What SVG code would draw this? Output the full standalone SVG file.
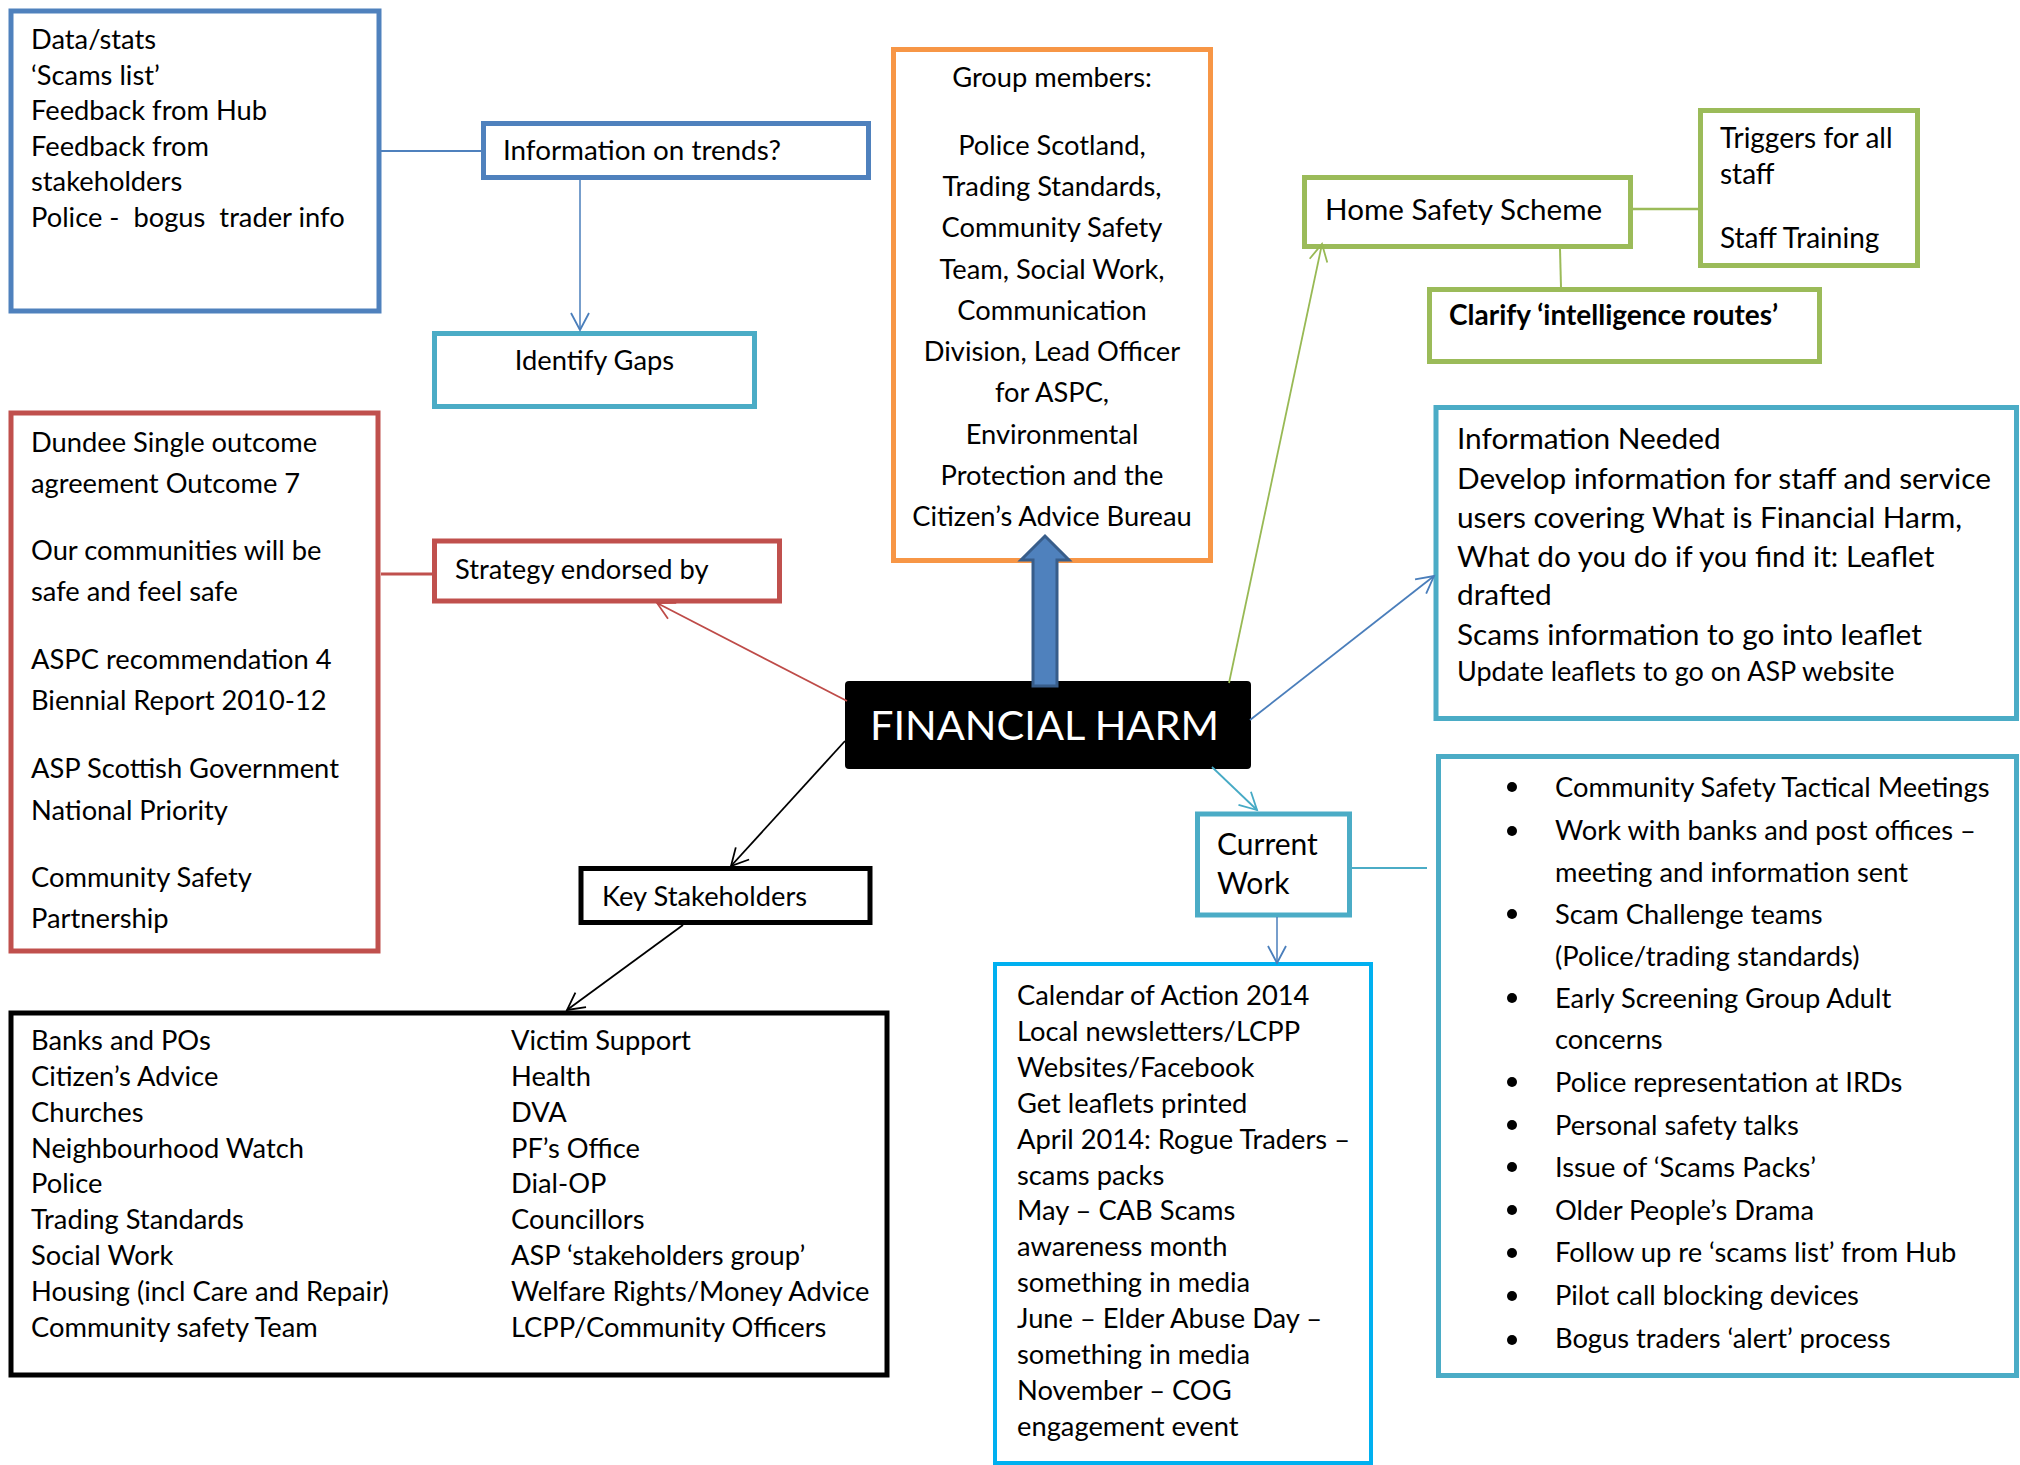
<svg xmlns="http://www.w3.org/2000/svg" width="2020" height="1465" viewBox="0 0 2020 1465">
<defs>
<style>
text{font-family:Lato,"Open Sans",sans-serif;font-size:27.3px;fill:#000}
.box{fill:#fff;stroke-width:5}
.blue{stroke:#4f81bd}.red{stroke:#c0504d}.orange{stroke:#f79646}.green{stroke:#9bbb59}.cyan{stroke:#4bacc6}.black{stroke:#000}
.mid{text-anchor:middle}
.big{font-size:29.8px}
</style>
<marker id="aBlue" markerUnits="userSpaceOnUse" markerWidth="24" markerHeight="24" viewBox="-20 -12 24 24" refX="0" refY="0" orient="auto"><path d="M-17,-9 L0,0 L-17,9" fill="none" stroke="#4a7ebb" stroke-width="1.8"/></marker>
<marker id="aRed" markerUnits="userSpaceOnUse" markerWidth="24" markerHeight="24" viewBox="-20 -12 24 24" refX="0" refY="0" orient="auto"><path d="M-17,-9 L0,0 L-17,9" fill="none" stroke="#be4b48" stroke-width="1.8"/></marker>
<marker id="aBlack" markerUnits="userSpaceOnUse" markerWidth="24" markerHeight="24" viewBox="-20 -12 24 24" refX="0" refY="0" orient="auto"><path d="M-17,-9 L0,0 L-17,9" fill="none" stroke="#000" stroke-width="1.8"/></marker>
<marker id="aGreen" markerUnits="userSpaceOnUse" markerWidth="24" markerHeight="24" viewBox="-20 -12 24 24" refX="0" refY="0" orient="auto"><path d="M-17,-9 L0,0 L-17,9" fill="none" stroke="#98b954" stroke-width="1.8"/></marker>
<marker id="aCyan" markerUnits="userSpaceOnUse" markerWidth="24" markerHeight="24" viewBox="-20 -12 24 24" refX="0" refY="0" orient="auto"><path d="M-17,-9 L0,0 L-17,9" fill="none" stroke="#46aac5" stroke-width="1.8"/></marker>
</defs>
<rect width="2020" height="1465" fill="#fff"/>

<g id="data-stats">
<rect class="box blue" x="11" y="11" width="368" height="300"/>
<text x="31" y="49">Data/stats</text>
<text x="31" y="84.5">‘Scams list’</text>
<text x="31" y="120">Feedback from Hub</text>
<text x="31" y="155.5">Feedback from</text>
<text x="31" y="191">stakeholders</text>
<text x="31" y="226.5" xml:space="preserve">Police -  bogus  trader info</text>
</g>

<g id="info-trends">
<rect class="box blue" x="483.5" y="123.5" width="385" height="54"/>
<text x="503" y="160" style="font-size:27.8px">Information on trends?</text>
</g>

<g id="identify-gaps">
<rect class="box cyan" x="434.5" y="333.5" width="320" height="73"/>
<text class="mid" x="594.5" y="370">Identify Gaps</text>
</g>

<g id="group-members">
<rect class="box orange" x="893.5" y="49.5" width="317" height="511"/>
<text class="mid" x="1052" y="87">Group members:</text>
<text class="mid" x="1052" y="155">Police Scotland,</text>
<text class="mid" x="1052" y="196">Trading Standards,</text>
<text class="mid" x="1052" y="237">Community Safety</text>
<text class="mid" x="1052" y="279">Team, Social Work,</text>
<text class="mid" x="1052" y="320">Communication</text>
<text class="mid" x="1052" y="361">Division, Lead Officer</text>
<text class="mid" x="1052" y="402">for ASPC,</text>
<text class="mid" x="1052" y="444">Environmental</text>
<text class="mid" x="1052" y="485">Protection and the</text>
<text class="mid" x="1052" y="526">Citizen’s Advice Bureau</text>
</g>

<g id="outcomes">
<rect class="box red" x="11" y="413" width="367" height="538"/>
<text x="31" y="452">Dundee Single outcome</text>
<text x="31" y="493">agreement Outcome 7</text>
<text x="31" y="560">Our communities will be</text>
<text x="31" y="601">safe and feel safe</text>
<text x="31" y="669">ASPC recommendation 4</text>
<text x="31" y="710">Biennial Report 2010-12</text>
<text x="31" y="778">ASP Scottish Government</text>
<text x="31" y="820">National Priority</text>
<text x="31" y="887">Community Safety</text>
<text x="31" y="928">Partnership</text>
</g>

<g id="strategy">
<rect class="box red" x="434.5" y="541" width="345" height="60"/>
<text x="455" y="579">Strategy endorsed by</text>
</g>

<g id="financial-harm">
<rect x="845" y="681" width="406" height="88" rx="4" fill="#000"/>
<text x="870" y="740" style="font-size:41.5px;fill:#fff">FINANCIAL HARM</text>
</g>

<g id="key-stakeholders">
<rect class="box black" x="581" y="868.5" width="289" height="54"/>
<text x="602" y="906">Key Stakeholders</text>
</g>

<g id="stakeholders-list">
<rect class="box black" x="11" y="1013" width="876" height="362"/>
<text x="31" y="1050">Banks and POs</text>
<text x="31" y="1086">Citizen’s Advice</text>
<text x="31" y="1122">Churches</text>
<text x="31" y="1158">Neighbourhood Watch</text>
<text x="31" y="1193">Police</text>
<text x="31" y="1229">Trading Standards</text>
<text x="31" y="1265">Social Work</text>
<text x="31" y="1301">Housing (incl Care and Repair)</text>
<text x="31" y="1337">Community safety Team</text>
<text x="511" y="1050">Victim Support</text>
<text x="511" y="1086">Health</text>
<text x="511" y="1122">DVA</text>
<text x="511" y="1158">PF’s Office</text>
<text x="511" y="1193">Dial-OP</text>
<text x="511" y="1229">Councillors</text>
<text x="511" y="1265">ASP ‘stakeholders group’</text>
<text x="511" y="1301">Welfare Rights/Money Advice</text>
<text x="511" y="1337">LCPP/Community Officers</text>
</g>

<g id="home-safety">
<rect class="box green" x="1304.5" y="177.5" width="326" height="69"/>
<text x="1325" y="220" style="font-size:29.6px">Home Safety Scheme</text>
</g>

<g id="triggers">
<rect class="box green" x="1700.5" y="110.5" width="217" height="155"/>
<text x="1720" y="148" style="font-size:28px">Triggers for all</text>
<text x="1720" y="184" style="font-size:28px">staff</text>
<text x="1720" y="248" style="font-size:28px">Staff Training</text>
</g>

<g id="clarify">
<rect class="box green" x="1429.5" y="289.5" width="390" height="72"/>
<text x="1449" y="325" style="font-weight:bold;font-size:28px">Clarify ‘intelligence routes’</text>
</g>

<g id="info-needed">
<rect class="box cyan" x="1436" y="407.5" width="580.5" height="311"/>
<text class="big" x="1457" y="449">Information Needed</text>
<text class="big" x="1457" y="489">Develop information for staff and service</text>
<text class="big" x="1457" y="528">users covering What is Financial Harm,</text>
<text class="big" x="1457" y="567">What do you do if you find it: Leaflet</text>
<text class="big" x="1457" y="605">drafted</text>
<text class="big" x="1457" y="645">Scams information to go into leaflet</text>
<text x="1457" y="681" style="font-size:27px">Update leaflets to go on ASP website</text>
</g>

<g id="current-work">
<rect class="box cyan" x="1197.5" y="814" width="152" height="101"/>
<text x="1217" y="855" style="font-size:30px">Current</text>
<text x="1217" y="894" style="font-size:30px">Work</text>
</g>

<g id="calendar">
<rect x="995" y="964" width="376" height="499" fill="#fff" stroke="#00b0f0" stroke-width="4"/>
<text x="1017" y="1005">Calendar of Action 2014</text>
<text x="1017" y="1041">Local newsletters/LCPP</text>
<text x="1017" y="1077">Websites/Facebook</text>
<text x="1017" y="1113">Get leaflets printed</text>
<text x="1017" y="1149">April 2014: Rogue Traders –</text>
<text x="1017" y="1185">scams packs</text>
<text x="1017" y="1220">May – CAB Scams</text>
<text x="1017" y="1256">awareness month</text>
<text x="1017" y="1292">something in media</text>
<text x="1017" y="1328">June – Elder Abuse Day –</text>
<text x="1017" y="1364">something in media</text>
<text x="1017" y="1400">November – COG</text>
<text x="1017" y="1436">engagement event</text>
</g>

<g id="current-work-list">
<rect class="box cyan" x="1438.5" y="756.5" width="578" height="619"/>
<g fill="#000">
<circle cx="1512" cy="787" r="5"/><circle cx="1512" cy="831" r="5"/><circle cx="1512" cy="914" r="5"/><circle cx="1512" cy="998" r="5"/><circle cx="1512" cy="1082" r="5"/><circle cx="1512" cy="1125" r="5"/><circle cx="1512" cy="1167" r="5"/><circle cx="1512" cy="1210" r="5"/><circle cx="1512" cy="1253" r="5"/><circle cx="1512" cy="1296" r="5"/><circle cx="1512" cy="1340" r="5"/>
</g>
<text x="1555" y="797">Community Safety Tactical Meetings</text>
<text x="1555" y="840">Work with banks and post offices –</text>
<text x="1555" y="882">meeting and information sent</text>
<text x="1555" y="924">Scam Challenge teams</text>
<text x="1555" y="966">(Police/trading standards)</text>
<text x="1555" y="1008">Early Screening Group Adult</text>
<text x="1555" y="1049">concerns</text>
<text x="1555" y="1092">Police representation at IRDs</text>
<text x="1555" y="1135">Personal safety talks</text>
<text x="1555" y="1177">Issue of ‘Scams Packs’</text>
<text x="1555" y="1220">Older People’s Drama</text>
<text x="1555" y="1262">Follow up re ‘scams list’ from Hub</text>
<text x="1555" y="1305">Pilot call blocking devices</text>
<text x="1555" y="1348">Bogus traders ‘alert’ process</text>
</g>

<g id="connectors">
<line x1="381" y1="151" x2="481" y2="151" stroke="#4f81bd" stroke-width="2"/>
<line x1="580" y1="180" x2="580" y2="330" stroke="#4a7ebb" stroke-width="1.5" marker-end="url(#aBlue)"/>
<line x1="381" y1="574" x2="432" y2="574" stroke="#c0504d" stroke-width="3"/>
<line x1="847" y1="701" x2="657" y2="603" stroke="#be4b48" stroke-width="1.8" marker-end="url(#aRed)"/>
<line x1="845" y1="741" x2="731" y2="866" stroke="#000" stroke-width="1.8" marker-end="url(#aBlack)"/>
<line x1="683" y1="925" x2="567" y2="1010" stroke="#000" stroke-width="1.8" marker-end="url(#aBlack)"/>
<path d="M1033,686 L1033,560 L1021,560 L1045,536 L1069,560 L1057,560 L1057,686 Z" fill="#4f81bd" stroke="#385d8a" stroke-width="3" stroke-linejoin="miter"/>
<line x1="1229" y1="683" x2="1322" y2="244" stroke="#98b954" stroke-width="1.8" marker-end="url(#aGreen)"/>
<line x1="1633" y1="209" x2="1698" y2="209" stroke="#9bbb59" stroke-width="2.5"/>
<line x1="1560" y1="249" x2="1561" y2="287" stroke="#9bbb59" stroke-width="2"/>
<line x1="1250" y1="720" x2="1434" y2="576" stroke="#4a7ebb" stroke-width="1.8" marker-end="url(#aBlue)"/>
<line x1="1212" y1="767" x2="1257" y2="810" stroke="#46aac5" stroke-width="1.8" marker-end="url(#aCyan)"/>
<line x1="1277" y1="917" x2="1277" y2="963" stroke="#4a7ebb" stroke-width="1.5" marker-end="url(#aBlue)"/>
<line x1="1352" y1="868" x2="1427" y2="868" stroke="#4bacc6" stroke-width="2"/>
</g>
</svg>
